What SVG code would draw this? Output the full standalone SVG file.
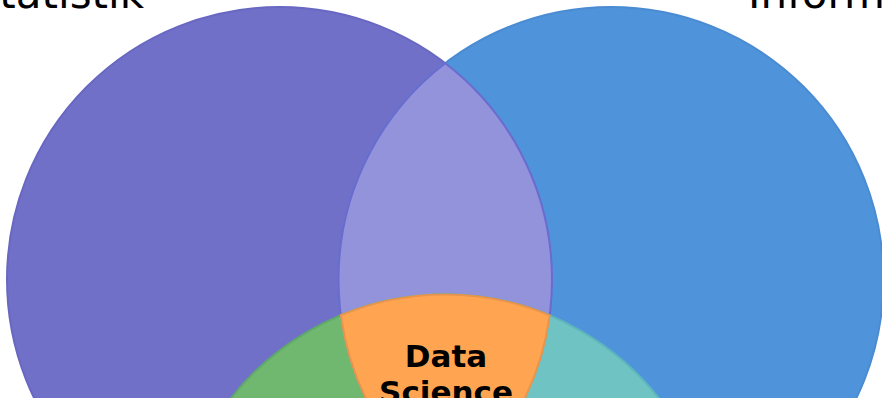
<svg xmlns="http://www.w3.org/2000/svg" width="882" height="398" viewBox="0 0 882 398">
  <style>
    .region { stroke-width: 2; stroke-linejoin: round; }
    .label { font-family: "DejaVu Sans", "Liberation Sans", sans-serif; font-size: 42px; fill: #000000; }
    .center { font-family: "DejaVu Sans", "Liberation Sans", sans-serif; font-size: 31px; font-weight: bold; fill: #000000; text-anchor: middle; }
  </style>
  <rect x="0" y="0" width="882" height="398" fill="#ffffff"/>
  <g id="set-statistik">
    <circle class="region" cx="279.5" cy="279.5" r="272.5" fill="#7070C8" stroke="#6868C2"/>
  </g>
  <g id="set-informatik">
    <circle class="region" cx="611" cy="279.5" r="272.5" fill="#4F94DA" stroke="#4A8BD2"/>
  </g>
  <g id="statistik-informatik">
    <path class="region" d="M 445.25 63.2 A 272.5 272.5 0 0 0 445.25 495.8 A 272.5 272.5 0 0 0 445.25 63.2 Z" fill="#9393DB" stroke="#6B6BCF"/>
  </g>
  <g id="statistik-domaene">
    <path class="region" d="M 549.65 315.35 A 272.5 272.5 0 0 1 174.85 531.15 A 272.5 272.5 0 0 1 549.65 315.35 Z" fill="#70B870" stroke="#5EA96A"/>
  </g>
  <g id="informatik-domaene">
    <path class="region" d="M 340.9 315.2 A 272.5 272.5 0 0 0 715.1 531.3 A 272.5 272.5 0 0 0 340.9 315.2 Z" fill="#6FC3C3" stroke="#5DB6BA"/>
  </g>
  <g id="data-science">
    <path class="region" d="M 340.9 315.2 A 272.5 272.5 0 0 1 549.65 315.35 A 272.5 272.5 0 0 1 445.25 495.8 A 272.5 272.5 0 0 1 340.9 315.2 Z" fill="#FFA552" stroke="#E8944C"/>
    <text class="center" x="446" y="367">Data</text>
    <text class="center" x="446" y="403">Science</text>
  </g>
  <g id="labels">
    <text class="label" x="144" y="8" text-anchor="end">Statistik</text>
    <text class="label" x="748" y="8">Informatik</text>
  </g>
  <g id="connectors"></g>
</svg>
